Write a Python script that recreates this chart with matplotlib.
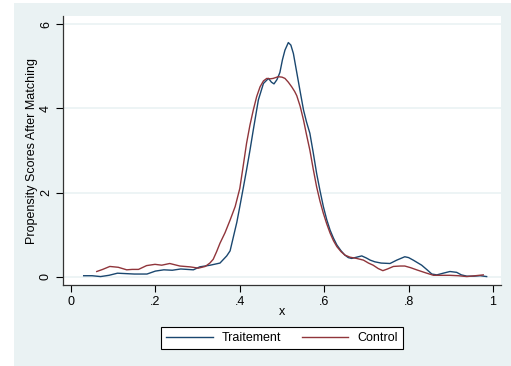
import matplotlib.pyplot as plt
from matplotlib.patches import Rectangle

plt.rcParams['font.family'] = ['Liberation Sans', 'DejaVu Sans']

# kernel density curves
treat_x = [0.03, 0.05, 0.07, 0.09, 0.11, 0.13, 0.15, 0.18, 0.20, 0.22, 0.24, 0.26, 0.29, 0.305,
           0.33, 0.353, 0.369, 0.377, 0.385, 0.393, 0.40, 0.408, 0.416, 0.424, 0.432, 0.444,
           0.456, 0.468, 0.475, 0.481, 0.488, 0.495, 0.501, 0.507, 0.515, 0.521, 0.527, 0.535,
           0.543, 0.551, 0.558, 0.566, 0.574, 0.582, 0.590, 0.598, 0.606, 0.614, 0.622, 0.63,
           0.640, 0.649, 0.657, 0.665, 0.677, 0.689, 0.70, 0.709, 0.72, 0.735, 0.756, 0.772,
           0.791, 0.80, 0.811, 0.831, 0.845, 0.855, 0.867, 0.882, 0.898, 0.914, 0.925, 0.938,
           0.955, 0.970, 0.985]
treat_y = [0.03, 0.03, 0.01, 0.04, 0.09, 0.08, 0.07, 0.07, 0.14, 0.17, 0.16, 0.19, 0.17, 0.24,
           0.28, 0.33, 0.50, 0.62, 0.96, 1.30, 1.67, 2.10, 2.54, 3.00, 3.49, 4.20,
           4.59, 4.71, 4.62, 4.58, 4.68, 4.85, 5.15, 5.38, 5.56, 5.50, 5.30, 4.85,
           4.40, 3.96, 3.68, 3.41, 2.95, 2.46, 2.05, 1.67, 1.36, 1.11, 0.92, 0.76,
           0.62, 0.52, 0.46, 0.44, 0.47, 0.50, 0.45, 0.40, 0.36, 0.33, 0.32, 0.40,
           0.48, 0.46, 0.40, 0.28, 0.16, 0.07, 0.05, 0.09, 0.13, 0.11, 0.05, 0.02,
           0.02, 0.03, 0.01]

ctrl_x = [0.061, 0.075, 0.092, 0.112, 0.132, 0.145, 0.160, 0.179, 0.199, 0.215, 0.234, 0.258,
          0.282, 0.302, 0.318, 0.329, 0.337, 0.345, 0.353, 0.365, 0.377, 0.389, 0.40, 0.408,
          0.416, 0.424, 0.432, 0.440, 0.448, 0.456, 0.464, 0.472, 0.479, 0.491, 0.500, 0.507,
          0.515, 0.523, 0.530, 0.535, 0.543, 0.551, 0.558, 0.566, 0.574, 0.582, 0.590, 0.598,
          0.606, 0.614, 0.622, 0.63, 0.640, 0.649, 0.661, 0.677, 0.693, 0.705, 0.716, 0.728,
          0.739, 0.750, 0.764, 0.78, 0.791, 0.805, 0.819, 0.84, 0.859, 0.878, 0.898, 0.918,
          0.938, 0.958, 0.977]
ctrl_y = [0.13, 0.18, 0.25, 0.23, 0.17, 0.18, 0.18, 0.27, 0.30, 0.28, 0.32, 0.26,
          0.24, 0.21, 0.25, 0.33, 0.42, 0.60, 0.80, 1.05, 1.35, 1.67, 2.10, 2.63,
          3.17, 3.60, 3.96, 4.28, 4.51, 4.65, 4.71, 4.70, 4.71, 4.75, 4.74, 4.71,
          4.62, 4.51, 4.40, 4.30, 4.05, 3.72, 3.38, 3.01, 2.56, 2.14, 1.80, 1.51,
          1.26, 1.04, 0.86, 0.72, 0.60, 0.52, 0.47, 0.44, 0.40, 0.33, 0.28, 0.20,
          0.15, 0.19, 0.25, 0.26, 0.26, 0.22, 0.17, 0.10, 0.04, 0.04, 0.04, 0.03,
          0.01, 0.03, 0.05]

x_ticks = [0, 0.2, 0.4, 0.6, 0.8, 1]
x_labels = ['0', '.2', '.4', '.6', '.8', '1']
y_ticks = [0, 2, 4, 6]

bg = '#eaf2f3'
fs = 9
fig = plt.figure(figsize=(5.11, 3.66), dpi=100, facecolor='white')
fig.patches.append(Rectangle((14 / 511, 0), 1, 1 - 3 / 366, transform=fig.transFigure,
                             facecolor=bg, edgecolor='none', zorder=-10))

ax = fig.add_axes([63 / 511, 1 - 285 / 366, 438 / 511, 269 / 366])
ax.set_facecolor('white')
for y in y_ticks:
    ax.axhline(y, color=bg, lw=1.2, zorder=0)

l1, = ax.plot(treat_x, treat_y, color='#1a476f', lw=1.0)
l2, = ax.plot(ctrl_x, ctrl_y, color='#90353b', lw=1.0)

ax.set_xlim(-0.019, 1.019)
ax.set_ylim(-0.19, 6.19)
ax.set_xticks(x_ticks)
ax.set_xticklabels(x_labels)
ax.set_yticks(y_ticks)
ax.set_yticklabels([str(v) for v in y_ticks], rotation=90, va='center')
ax.tick_params(direction='out', length=5, width=0.8, labelsize=fs, colors='black', pad=3)
for s in ['top', 'right']:
    ax.spines[s].set_visible(False)
for s in ['left', 'bottom']:
    ax.spines[s].set_color('#333333')
    ax.spines[s].set_linewidth(0.9)

ax.set_xlabel('x', fontsize=fs)
ax.set_ylabel('Propensity Scores After Matching', fontsize=fs)
ax.xaxis.set_label_coords(0.5, -0.077)
ax.yaxis.set_label_coords(-0.056, 0.5)

leg = fig.legend([l1, l2], ['Traitement', 'Control'], loc='center',
                 bbox_to_anchor=(282 / 511, 1 - 338 / 366), ncol=2, fontsize=fs,
                 frameon=True, fancybox=False, edgecolor='black', facecolor='white',
                 handlelength=3.7, handletextpad=0.72, columnspacing=1.65, borderpad=0.4)
leg.get_frame().set_linewidth(0.8)
leg.get_frame().set_alpha(1)

fig.savefig('out.png', dpi=100, facecolor=fig.get_facecolor())
